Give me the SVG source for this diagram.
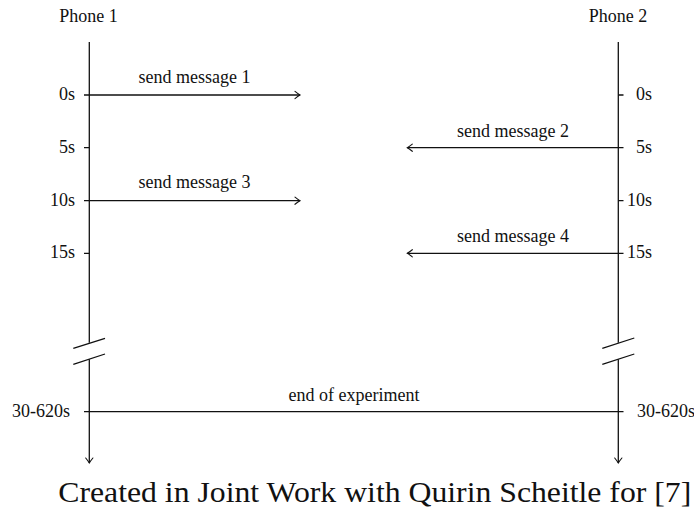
<svg xmlns="http://www.w3.org/2000/svg" width="694" height="509" viewBox="0 0 694 509">
<style>
text{font-family:'Liberation Serif','Times New Roman',serif;fill:#111}
.lbl{font-size:18px}
.mid{text-anchor:middle}
.end{text-anchor:end}
.ln{stroke:#111;stroke-width:1.3;fill:none}
.cap{font-size:30px}
</style>
<defs>
<marker id="to" viewBox="-7 -5 9 10" markerWidth="9" markerHeight="10" refX="0" refY="0" orient="auto" markerUnits="userSpaceOnUse">
<path d="M-5,-3.6 Q-1.6,-0.9 0,0 Q-1.6,0.9 -5,3.6" fill="none" stroke="#111" stroke-width="1.1" stroke-linecap="round"/>
</marker>
</defs>
<rect width="694" height="509" fill="#fff"/>
<g id="phone1">
<text class="lbl mid" x="88.5" y="21.7">Phone 1</text>
<path class="ln" d="M89.3,42 V342.7"/>
<path class="ln" d="M89.3,359.3 V463" marker-end="url(#to)"/>
<path class="ln" d="M73.3,348.3 L105,338.3 M73.3,364.3 L105,354"/>
<path class="ln" d="M84,147.7 H89.3 M84,253.3 H89.3"/>
<text class="lbl end" x="75" y="100">0s</text>
<text class="lbl end" x="75" y="152.7">5s</text>
<text class="lbl end" x="75" y="205.5">10s</text>
<text class="lbl end" x="75" y="258.3">15s</text>
<text class="lbl end" x="70" y="417.3">30-620s</text>
</g>
<g id="phone2">
<text class="lbl mid" x="618" y="21.7">Phone 2</text>
<path class="ln" d="M618.3,42 V342.7"/>
<path class="ln" d="M618.3,359.3 V463" marker-end="url(#to)"/>
<path class="ln" d="M602.3,348.3 L634.3,338 M602.3,364.3 L634.3,354"/>
<path class="ln" d="M618.3,95 H623.5 M618.3,200.7 H623.5"/>
<text class="lbl end" x="652" y="100">0s</text>
<text class="lbl end" x="652" y="152.7">5s</text>
<text class="lbl end" x="652" y="205.5">10s</text>
<text class="lbl end" x="652" y="258.3">15s</text>
<text class="lbl" x="637" y="417.3">30-620s</text>
</g>
<g id="connectors">
<path class="ln" d="M84,95 H300" marker-end="url(#to)"/>
<text class="lbl mid" x="194.5" y="82.7">send message 1</text>
<path class="ln" d="M623.5,147.7 H407.3" marker-end="url(#to)"/>
<text class="lbl mid" x="513" y="136.5">send message 2</text>
<path class="ln" d="M84,200.7 H300" marker-end="url(#to)"/>
<text class="lbl mid" x="194.5" y="188.3">send message 3</text>
<path class="ln" d="M623.5,253.3 H407.3" marker-end="url(#to)"/>
<text class="lbl mid" x="513" y="241.7">send message 4</text>
<path class="ln" d="M84,411.7 H623.5"/>
<text class="lbl mid" x="354" y="401">end of experiment</text>
</g>
<text class="cap" x="58.3" y="501.7" textLength="633" lengthAdjust="spacingAndGlyphs">Created in Joint Work with Quirin Scheitle for [7]</text>
</svg>
